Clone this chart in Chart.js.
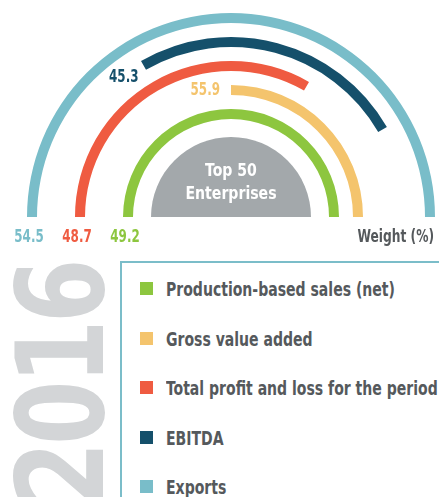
<!DOCTYPE html>
<html>
<head>
<meta charset="utf-8">
<title>Top 50 Enterprises 2016</title>
<script src="https://cdn.jsdelivr.net/npm/chart.js@4.4.0/dist/chart.umd.min.js"></script>
<style>
    body { margin: 0; width: 439px; height: 497px; overflow: hidden; background: #fff; position: relative;
           font-family: "DejaVu Sans Condensed", "DejaVu Sans", sans-serif; font-weight: bold; }
    #arcChart { position: absolute; left: 0; top: 0; }
    #year { position: absolute; left: 12px; top: 506px; transform: rotate(-90deg) scaleX(0.85); transform-origin: 0 0;
            font-size: 121px; line-height: 100px; color: #d3d5d7; letter-spacing: -4px; white-space: nowrap; }
    #legendBox { position: absolute; left: 120px; top: 261px; width: 400px; height: 300px;
                 border-top: 2px solid #7bbdc9; border-left: 2px solid #7bbdc9; }
    .row { position: absolute; left: 18px; height: 24px; line-height: 24px; font-size: 20px; color: #55595c; white-space: nowrap; }
    .row .sq { position: absolute; left: 0; top: 5px; width: 13px; height: 13px; }
    .row .tx { position: absolute; left: 26px; top: 0; transform: scaleX(0.78); transform-origin: 0 50%; }
</style>
</head>
<body>
<canvas id="arcChart" width="439" height="260"></canvas>
<div id="year"></div>
<div id="legendBox"></div>
<script>
    // series, listed inner ring first
    const seriesNames = ['Production-based sales (net)', 'Gross value added', 'Total profit and loss for the period', 'EBITDA', 'Exports'];
    const seriesValues = [49.2, 55.9, 48.7, 45.3, 54.5];
    const seriesColors = ['#8dc63f', '#f4c46d', '#ef5b41', '#15506b', '#79bdc9'];
    // arc extent in degrees of the half circle, clockwise from the left baseline
    const arcFrom = [0, 90, 0, 60, 0];
    const arcTo = [180, 180, 120, 150, 180];
    const centerLabel = ['Top 50', 'Enterprises'];
    const unitLabel = 'Weight (%)';
    const yearLabel = '2016';

    const FONT = '"DejaVu Sans Condensed", "DejaVu Sans", sans-serif';
    const clear = 'rgba(0,0,0,0)';
    const labelOffset = { 1: [-11, 1], 3: [-5, 12] };

    // rings go outermost first in a doughnut
    const ringOrder = [4, 3, 2, 1, 0];
    const datasets = [];
    ringOrder.forEach((s, i) => {
        datasets.push({
            data: [arcFrom[s], arcTo[s] - arcFrom[s], 180 - arcTo[s]],
            backgroundColor: [clear, seriesColors[s], clear],
            borderWidth: 0,
            weight: 10
        });
        datasets.push({ data: [180], backgroundColor: [clear], borderWidth: 0, weight: i < 4 ? 14 : 18 });
    });
    datasets.push({ data: [180], backgroundColor: ['#a3a8ab'], borderWidth: 0, weight: 80 });

    // narrow text: the original uses a condensed face
    function squeezeText(ctx, txt, x, y, align, sx) {
        ctx.save();
        ctx.translate(x, y);
        ctx.scale(sx, 1);
        ctx.textAlign = align;
        ctx.fillText(txt, 0, 0);
        ctx.restore();
    }

    const arcLabels = {
        id: 'arcLabels',
        afterDraw(chart) {
            const ctx = chart.ctx;
            ctx.save();
            ctx.textBaseline = 'middle';
            ctx.font = 'bold 17px ' + FONT;
            ringOrder.forEach((s, i) => {
                const arc = chart.getDatasetMeta(i * 2).data[1];
                const mid = (arc.innerRadius + arc.outerRadius) / 2;
                const txt = seriesValues[s].toFixed(1);
                ctx.fillStyle = seriesColors[s];
                if (arcFrom[s] === 0) {
                    squeezeText(ctx, txt, arc.x - mid - 3, arc.y + 21, 'center', 0.78);
                } else {
                    const a = arc.startAngle;
                    const off = labelOffset[s] || [-6, 0];
                    squeezeText(ctx, txt, arc.x + Math.cos(a) * mid + off[0], arc.y + Math.sin(a) * mid + off[1], 'right', 0.78);
                }
            });
            const c = chart.getDatasetMeta(0).data[1];
            ctx.fillStyle = '#55595c';
            squeezeText(ctx, unitLabel, 434, c.y + 21, 'right', 0.8);

            ctx.fillStyle = '#ffffff';
            ctx.font = 'bold 18px ' + FONT;
            squeezeText(ctx, centerLabel[0], c.x, c.y - 46, 'center', 0.87);
            squeezeText(ctx, centerLabel[1], c.x, c.y - 23, 'center', 0.87);
            ctx.restore();
        }
    };

    new Chart(document.getElementById('arcChart').getContext('2d'), {
        type: 'doughnut',
        data: { labels: ['', '', ''], datasets: datasets },
        options: {
            responsive: false,
            animation: false,
            rotation: -90,
            circumference: 180,
            cutout: 0,
            layout: { padding: { left: 27, right: 4, top: 13, bottom: 43 } },
            plugins: { legend: { display: false }, tooltip: { enabled: false } },
            events: []
        },
        plugins: [arcLabels]
    });

    document.getElementById('year').textContent = yearLabel;
    const box = document.getElementById('legendBox');
    for (let i = 0; i < seriesNames.length; i++) {
        const row = document.createElement('div');
        row.className = 'row';
        row.style.top = (14 + i * 49.5) + 'px';
        row.innerHTML = '<span class="sq" style="background:' + seriesColors[i] + '"></span><span class="tx">' + seriesNames[i] + '</span>';
        box.appendChild(row);
    }
</script>
</body>
</html>
